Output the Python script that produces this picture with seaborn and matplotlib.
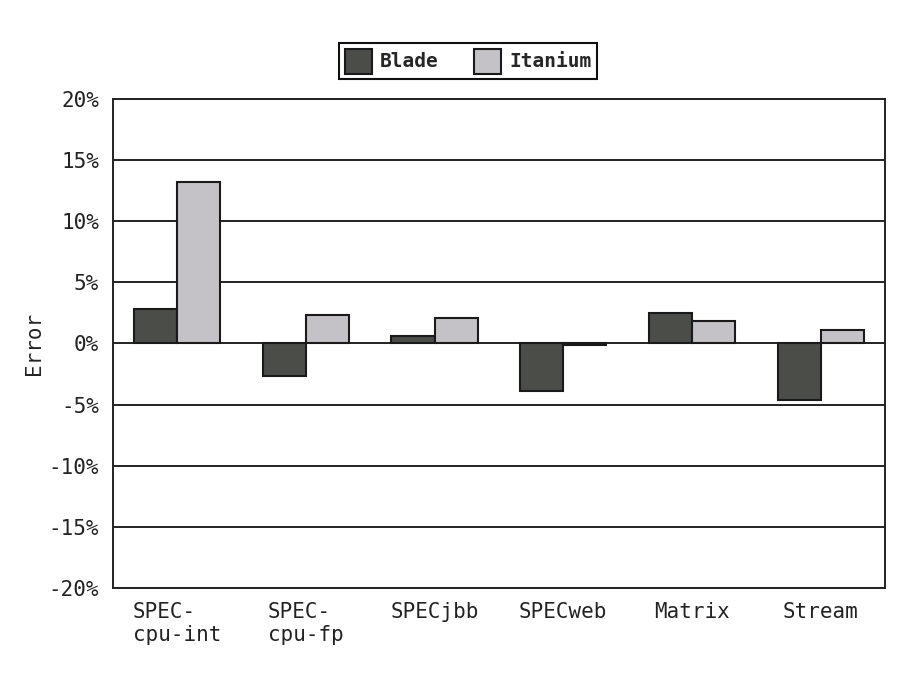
import pandas as pd
import seaborn as sns
import matplotlib.pyplot as plt
from matplotlib.ticker import PercentFormatter, FixedLocator

# Dados (erro em %)
benchmarks = ['SPEC-\ncpu-int', 'SPEC-\ncpu-fp', 'SPECjbb', 'SPECweb', 'Matrix', 'Stream']
blade = [2.8, -2.7, 0.6, -3.9, 2.5, -4.6]
itanium = [13.2, 2.3, 2.1, -0.15, 1.85, 1.1]
series = ['Blade', 'Itanium']
colors = ['#4b4d49', '#c4c2c6']

df = pd.DataFrame({
    'Benchmark': benchmarks * 2,
    'Error': blade + itanium,
    'System': ['Blade'] * len(blade) + ['Itanium'] * len(itanium),
})

sns.set_style('white')
plt.rcParams['font.family'] = ['DejaVu Sans Mono']
plt.rcParams['axes.unicode_minus'] = False

fig, ax = plt.subplots(figsize=(9.18, 6.78), dpi=100)
fig.subplots_adjust(left=0.123, right=0.964, top=0.854, bottom=0.133)

ax.set_axisbelow(True)
sns.barplot(data=df, x='Benchmark', y='Error', hue='System', hue_order=series,
            palette=colors, width=0.67, edgecolor='#1a1a1a', linewidth=1.5,
            saturation=1, ax=ax, legend=False)

ax.set_ylim(-20, 20)
ax.set_xlim(-0.5, len(benchmarks) - 0.5)
ax.set_yticks(range(-20, 21, 5))
ax.yaxis.set_major_formatter(PercentFormatter(decimals=0))
ax.yaxis.grid(True, color='#222222', linewidth=1.4)
ax.xaxis.grid(False)

# ticks nas fronteiras entre grupos
ax.xaxis.set_minor_locator(FixedLocator([i - 0.5 for i in range(len(benchmarks) + 1)]))
ax.tick_params(axis='x', which='major', length=0, pad=10, labelsize=15)
ax.tick_params(axis='x', which='minor', length=8, width=1.4, color='#222222', direction='out')
ax.tick_params(axis='y', length=8, width=1.4, color='#222222', direction='out', labelsize=15, pad=2)
for lab in ax.get_xticklabels():
    lab.set_multialignment('left')
    lab.set_color('#222222')
for lab in ax.get_yticklabels():
    lab.set_color('#222222')

for s in ax.spines.values():
    s.set_visible(True)
    s.set_color('#222222')
    s.set_linewidth(1.4)

ax.set_xlabel('')
ax.set_ylabel('Error', fontsize=15, color='#222222', labelpad=3)

handles = [plt.Rectangle((0, 0), 1, 1, facecolor=c, edgecolor='#1a1a1a', linewidth=1.5) for c in colors]
leg = fig.legend(handles, series, loc='center', bbox_to_anchor=(0.51, 0.91), ncol=2,
                 frameon=True, fancybox=False, framealpha=1, edgecolor='#111111',
                 prop={'weight': 'bold', 'size': 14}, handlelength=1.4, handleheight=1.6,
                 handletextpad=0.4, columnspacing=1.8, borderpad=0.3, borderaxespad=0)
leg.get_frame().set_linewidth(1.5)

plt.savefig('out.png', dpi=100)
